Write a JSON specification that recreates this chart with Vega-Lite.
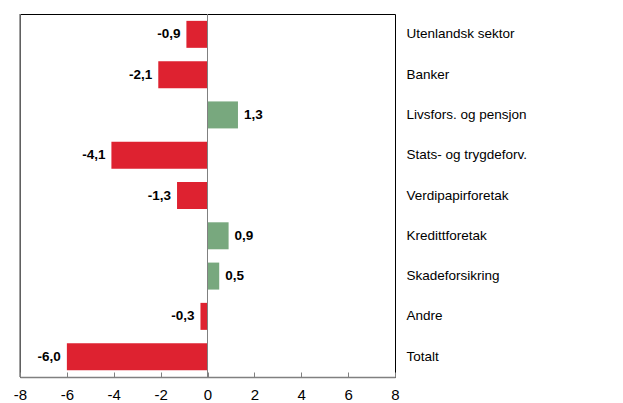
{
  "$schema": "https://vega.github.io/schema/vega-lite/v6.json",
  "width": 375,
  "height": 363,
  "autosize": {"type": "none"},
  "padding": {"left": 20, "top": 14, "right": 228, "bottom": 26},
  "background": "white",
  "data": {"values": [
    {"sektor": "Utenlandsk sektor", "v": -0.9},
    {"sektor": "Banker", "v": -2.1},
    {"sektor": "Livsfors. og pensjon", "v": 1.3},
    {"sektor": "Stats- og trygdeforv.", "v": -4.1},
    {"sektor": "Verdipapirforetak", "v": -1.3},
    {"sektor": "Kredittforetak", "v": 0.9},
    {"sektor": "Skadeforsikring", "v": 0.5},
    {"sektor": "Andre", "v": -0.3},
    {"sektor": "Totalt", "v": -6.0}
  ]},
  "config": {
    "view": {"stroke": "#000", "strokeWidth": 1},
    "font": "Liberation Sans",
    "locale": {"number": {"decimal": ",", "thousands": " ", "grouping": [3], "currency": ["", " kr"], "minus": "-"}}
  },
  "layer": [
    {
      "mark": {"type": "bar"},
      "encoding": {
        "x": {"field": "v", "type": "quantitative",
          "scale": {"domain": [-8, 8], "nice": false},
          "axis": {"orient": "bottom", "title": null, "values": [-8,-6,-4,-2,0,2,4,6,8], "grid": false,
            "domainColor": "#808080", "domainWidth": 1.5, "tickColor": "#808080", "tickSize": -5, "labelFontSize": 15,
            "labelFlush": false, "labelOverlap": false, "labelColor": "#000", "labelPadding": 15, "format": "d"}},
        "y": {"field": "sektor", "type": "nominal", "sort": null,
          "scale": {"paddingInner": 0.33, "paddingOuter": 0.17},
          "axis": {"orient": "right", "title": null, "ticks": false, "domain": false,
            "labelFontSize": 13.5, "labelColor": "#000", "labelPadding": 11, "labelLimit": 300}},
        "color": {"condition": {"test": "datum.v < 0", "value": "#DE2230"}, "value": "#78A87E"}
      }
    },
    {
      "data": {"values": [{"x": 0}]},
      "mark": {"type": "rule", "color": "#808080", "strokeWidth": 1},
      "encoding": {"x": {"field": "x", "type": "quantitative"}}
    },
    {
      "data": {"values": [{"x": -8}]},
      "mark": {"type": "rule", "color": "#808080", "strokeWidth": 1.5},
      "encoding": {"x": {"field": "x", "type": "quantitative"}}
    },
    {
      "transform": [{"filter": "datum.v < 0"}],
      "mark": {"type": "text", "align": "right", "dx": -6, "fontWeight": "bold", "fontSize": 13.5, "color": "#000"},
      "encoding": {
        "x": {"field": "v", "type": "quantitative"},
        "y": {"field": "sektor", "type": "nominal", "sort": null},
        "text": {"field": "v", "type": "quantitative", "format": ".1f"}
      }
    },
    {
      "transform": [{"filter": "datum.v >= 0"}],
      "mark": {"type": "text", "align": "left", "dx": 6, "fontWeight": "bold", "fontSize": 13.5, "color": "#000"},
      "encoding": {
        "x": {"field": "v", "type": "quantitative"},
        "y": {"field": "sektor", "type": "nominal", "sort": null},
        "text": {"field": "v", "type": "quantitative", "format": ".1f"}
      }
    }
  ]
}
